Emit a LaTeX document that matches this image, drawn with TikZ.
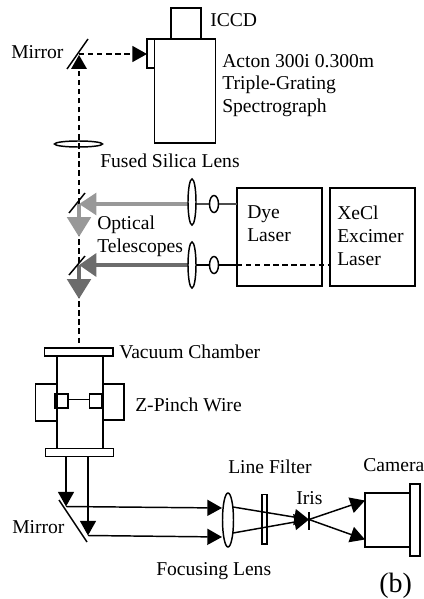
\documentclass[tikz,border=0pt]{standalone}
\usepackage{fontspec}
\setmainfont{Liberation Serif}
\usetikzlibrary{arrows.meta}

\begin{document}
\begin{tikzpicture}[x=0.75pt,y=0.75pt,yscale=-1,xscale=1,
  part/.style={line width=1.1pt},
  thin part/.style={line width=0.8pt},
  label/.style={anchor=base west,inner sep=0pt,font=\fontsize{14.7pt}{16pt}\selectfont},
  beam/.style={line width=1.1pt,-{Triangle[length=11pt,width=12pt]}},
  dashbeam/.style={beam,dash pattern=on 4pt off 2.8pt},
  dashline/.style={line width=1pt,dash pattern=on 4pt off 2.8pt},
  lightbeam/.style={color=lightray,line width=3.3pt,-{Triangle[length=13pt,width=16pt]}},
  darkbeam/.style={color=darkray,line width=3.3pt,-{Triangle[length=13pt,width=17pt]}},
  falltip/.style={-{Triangle[length=15pt,width=17.5pt]}}
]
\definecolor{lightray}{RGB}{152,152,152}
\definecolor{darkray}{RGB}{108,108,108}
\useasboundingbox (0,0) rectangle (424,599);

%Spectrograph
\draw [part] (171,39) rectangle (201,8);
\draw [part] (154.5,39) rectangle (215.5,143);
\draw [part] (147,39) rectangle (154.5,68);
%Upper mirror and lens
\coordinate (mirrortop) at (79,54);
\coordinate (slit) at (147,54);
\coordinate (lensaxis) at (79,71);
\coordinate (firstmirror) at (79,203);
\draw [part] (88,39) -- (67,69);
\draw [dashbeam] (mirrortop) -- (slit);
\draw [dashline] (firstmirror) -- (lensaxis);
\fill (79,55) -- (87,69) -- (71,69) -- cycle;
\draw [part] (78.5,144) ellipse [x radius=24,y radius=3];
%Lasers
\draw [part] (237,188) rectangle (322,286);
\draw [part] (330,188) rectangle (415,286);
\coordinate (dyeout) at (237,204);
\coordinate (pumpin) at (237,265);
\coordinate (pumpout) at (330,265);
\coordinate (telea) at (192,204);
\coordinate (teleb) at (192,265);
\coordinate (secondmirror) at (79,265);
\coordinate (chamberin) at (79,348);
\draw [part,color=black!70] (telea) -- (dyeout);
\draw [part] (teleb) -- (pumpin);
\draw [dashline] (pumpin) -- (pumpout);
%Telescopes
\draw [dashline] (firstmirror) -- (secondmirror);
\draw [dashline] (secondmirror) -- (chamberin);
\draw [lightbeam] (telea) -- (79,204);
\draw [lightbeam,falltip] (79,204) -- (79,237);
\draw [darkbeam] (teleb) -- (79,265);
\draw [darkbeam,falltip] (79,265) -- (79,299);
\draw [part] (85,193) -- (69,213);
\draw [part] (85,256) -- (69,275);
\draw [part,fill=white] (192,202) ellipse [x radius=4,y radius=23];
\draw [part,fill=white] (192,265) ellipse [x radius=4,y radius=23];
\draw [part,fill=white] (214,204) ellipse [x radius=4.5,y radius=8.5];
\draw [part,fill=white] (214,265) ellipse [x radius=4.5,y radius=8.5];
%Vacuum chamber
\draw [part] (44.5,348) rectangle (113,356);
\draw [part] (45.5,448.5) rectangle (113.5,456.5);
\draw [part] (57,356) -- (57,448.5);
\draw [part] (103,356) -- (103,448.5);
\draw [thin part] (57,384) -- (35.5,384) -- (35.5,421) -- (57,421);
\draw [thin part] (103,384) -- (124,384) -- (124,420) -- (103,420);
\draw [part] (55,394) rectangle (68,408);
\draw [part] (89.5,394) rectangle (102,408);
\draw [thin part] (68,399.5) -- (89.5,399.5);
%Lower mirror and beams
\coordinate (beamatop) at (66,456.5);
\coordinate (beamamirror) at (66,506.5);
\coordinate (beambtop) at (88,456.5);
\coordinate (beambmirror) at (88,535.5);
\coordinate (lensa) at (222,508);
\coordinate (lensb) at (222,537);
\draw [part] (59,500) -- (87,542);
\draw [beam] (beamatop) -- (beamamirror);
\draw [beam] (beambtop) -- (beambmirror);
\draw [beam] (beamamirror) -- (lensa);
\draw [beam] (beambmirror) -- (lensb);
%Focusing optics
\coordinate (lensaout) at (233,507);
\coordinate (lensbout) at (233,533);
\coordinate (iris) at (309,519.5);
\coordinate (cameraa) at (365,500.5);
\coordinate (camerab) at (365,539.5);
\draw [part] (228,520) ellipse [x radius=5.5,y radius=27];
\draw [part,fill=white] (262,494.5) rectangle (267,544);
\draw [beam] (lensaout) -- (iris);
\draw [beam] (lensbout) -- (iris);
\draw [beam] (iris) -- (cameraa);
\draw [beam] (iris) -- (camerab);
\draw [thin part] (309,512) -- (309,530);
\draw [part] (365,493) rectangle (410,547);
\draw [part] (410,484) rectangle (420,556);

% Text Node
\node (iccdlabel) [label] at (210,27) {ICCD};
\node (mirrortoplabel) [label] at (11,59) {Mirror};
\node (actonlabel) [label] at (222,68) {Acton 300i 0.300m};
\node (triplelabel) [label] at (222,90) {Triple-Grating};
\node (spectrolabel) [label] at (222,113) {Spectrograph};
\node (silicalabel) [label] at (100,167) {Fused Silica Lens};
\node (dyelabel) [label] at (247,218) {Dye};
\node (dyelaserlabel) [label] at (247,241) {Laser};
\node (xecllabel) [label] at (337,219) {XeCl};
\node (excimerlabel) [label] at (337,242) {Excimer};
\node (xelaserlabel) [label] at (337,265) {Laser};
\node (opticallabel) [label] at (97,229) {Optical};
\node (telelabel) [label] at (97,252) {Telescopes};
\node (vacuumlabel) [label] at (119,358) {Vacuum Chamber};
\node (pinchlabel) [label] at (135,411) {Z-Pinch Wire};
\node (filterlabel) [label] at (228,473) {Line Filter};
\node (cameralabel) [label] at (363,471) {Camera};
\node (irislabel) [label] at (296,504) {Iris};
\node (mirrorlowlabel) [label] at (12,533) {Mirror};
\node (focuslabel) [label] at (156,575) {Focusing Lens};
\node (partlabel) [label,font=\fontsize{21pt}{23pt}\selectfont] at (379,592) {(b)};

\end{tikzpicture}
\end{document}
